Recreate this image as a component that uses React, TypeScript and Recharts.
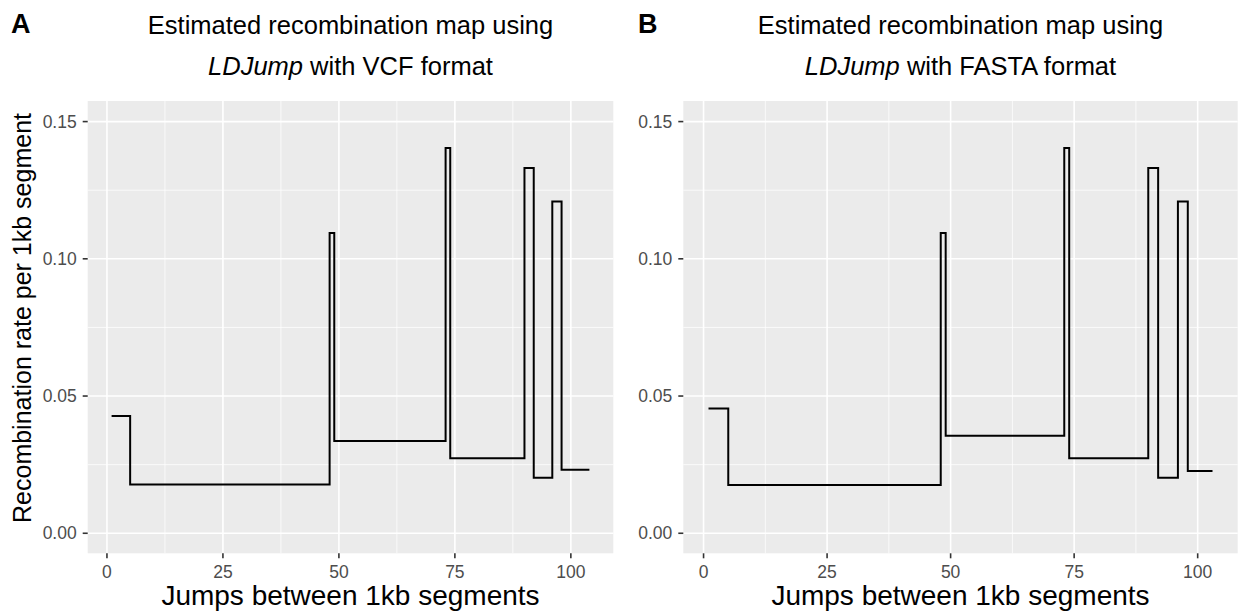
import { LineChart, Line, XAxis, YAxis, CartesianGrid } from "recharts"

// step positions (jump index) and recombination rate
const vcfJumps = [1, 5, 48, 49, 73, 74, 90, 92, 96, 98, 104]
const vcfRates = [0.0427, 0.0178, 0.1094, 0.0336, 0.1404, 0.0273, 0.1331, 0.0202, 0.1209, 0.0231, 0.0231]

const fastaJumps = [1, 5, 48, 49, 73, 74, 90, 92, 96, 98, 103]
const fastaRates = [0.0455, 0.0176, 0.1094, 0.0355, 0.1404, 0.0273, 0.1331, 0.0202, 0.1209, 0.0227, 0.0227]

const xTicks = [0, 25, 50, 75, 100]
const xMinor = [12.5, 37.5, 62.5, 87.5]
const yTicks = [0, 0.05, 0.1, 0.15]
const yMinor = [0.025, 0.075, 0.125]

const FONT = "'Liberation Sans', Arial, Helvetica, sans-serif"
const H = 611

interface PanelProps {
  jumps: number[]
  rates: number[]
  left: number
  width: number
  marginLeft: number
  marginRight: number
  xMax: number
}

const Panel = ({ jumps, rates, left, width, marginLeft, marginRight, xMax }: PanelProps) => {
  const data = jumps.map((j, i) => ({ jump: j, rate: rates[i] }))
  const span = jumps[jumps.length - 1] - jumps[0]
  return (
    <div style={{ position: "absolute", left, top: 0 }}>
      <LineChart
        width={width}
        height={H}
        data={data}
        margin={{ top: 101, right: marginRight, bottom: 27.7, left: marginLeft }}
      >
        <CartesianGrid
          fill="#EBEBEB"
          stroke="#FFFFFF"
          strokeWidth={0.75}
          horizontalValues={yMinor}
          verticalValues={xMinor}
        />
        <CartesianGrid
          stroke="#FFFFFF"
          strokeWidth={1.6}
          horizontalValues={yTicks}
          verticalValues={xTicks}
        />
        <XAxis
          dataKey="jump"
          type="number"
          domain={[jumps[0] - span * 0.05, xMax]}
          allowDataOverflow
          ticks={xTicks}
          height={30}
          axisLine={false}
          tickLine={{ stroke: "#333333", strokeWidth: 1.6 }}
          tickSize={5}
          tickMargin={7}
          tick={{ fill: "#4D4D4D", fontSize: 17.5, fontFamily: FONT }}
        />
        <YAxis
          type="number"
          domain={[-0.0073, 0.1575]}
          allowDataOverflow
          ticks={yTicks}
          width={60}
          axisLine={false}
          tickLine={{ stroke: "#333333", strokeWidth: 1.6 }}
          tickSize={5}
          tickMargin={6}
          tickFormatter={(v: number) => v.toFixed(2)}
          tick={{ fill: "#4D4D4D", fontSize: 17.5, fontFamily: FONT }}
        />
        <Line
          type="stepAfter"
          dataKey="rate"
          stroke="#000000"
          strokeWidth={2}
          dot={false}
          isAnimationActive={false}
        />
      </LineChart>
    </div>
  )
}

const Titles = () => (
  <svg
    width={1238}
    height={H}
    style={{ position: "absolute", left: 0, top: 0, pointerEvents: "none" }}
    fontFamily={FONT}
  >
    <text x={11} y={33} fontSize={27} fontWeight="bold">A</text>
    <text x={350.5} y={34} fontSize={25.5} textAnchor="middle">Estimated recombination map using</text>
    <text x={350.5} y={75} fontSize={25.5} textAnchor="middle">
      <tspan fontStyle="italic">LDJump</tspan> with VCF format
    </text>
    <text x={638} y={33} fontSize={27} fontWeight="bold">B</text>
    <text x={960.5} y={34} fontSize={25.5} textAnchor="middle">Estimated recombination map using</text>
    <text x={960.5} y={75} fontSize={25.5} textAnchor="middle">
      <tspan fontStyle="italic">LDJump</tspan> with FASTA format
    </text>
    <text x={350.5} y={605} fontSize={28} textAnchor="middle">Jumps between 1kb segments</text>
    <text x={960.5} y={605} fontSize={28} textAnchor="middle">Jumps between 1kb segments</text>
    <text
      x={31}
      y={318}
      fontSize={25}
      textAnchor="middle"
      transform="rotate(-90 31 318)"
    >
      Recombination rate per 1kb segment
    </text>
  </svg>
)

export default function App() {
  return (
    <div style={{ position: "absolute", left: 0, top: 0, width: 1238, height: H, background: "#FFFFFF" }}>
      <Panel jumps={vcfJumps} rates={vcfRates} left={0} width={620} marginLeft={27.7} marginRight={6.7} xMax={109.15} />
      <Panel jumps={fastaJumps} rates={fastaRates} left={620} width={618} marginLeft={3.3} marginRight={0.3} xMax={108.1} />
      <Titles />
    </div>
  )
}
